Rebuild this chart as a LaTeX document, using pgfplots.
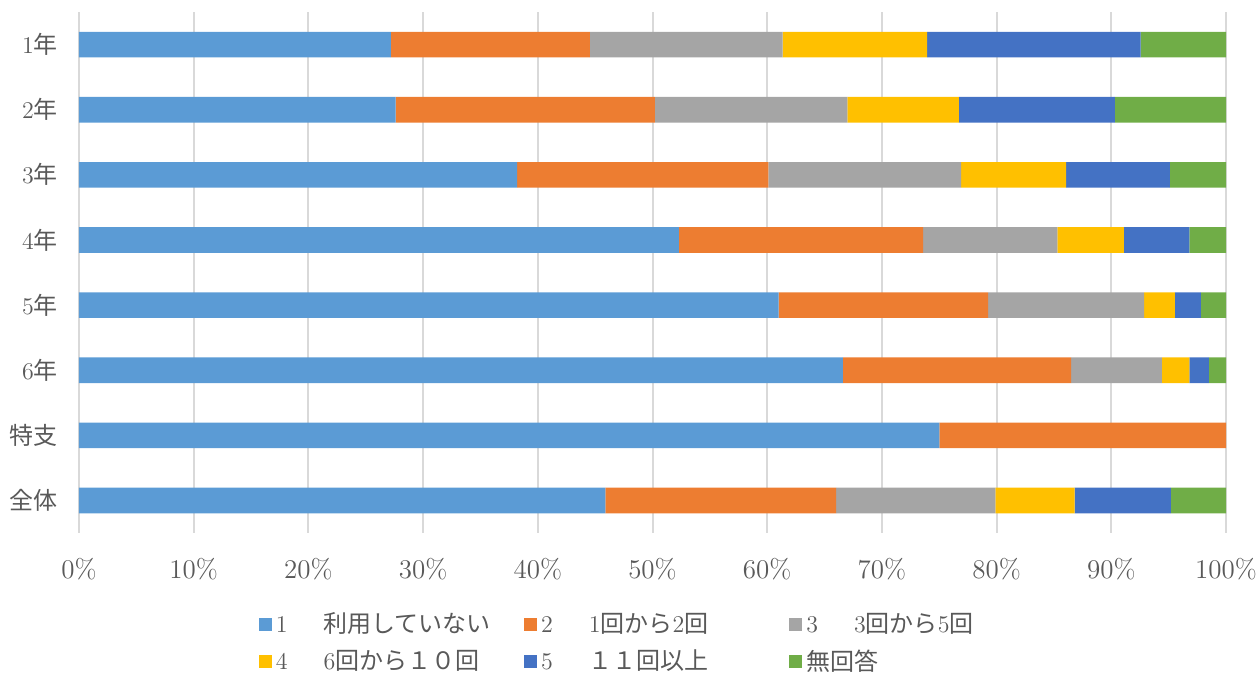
\documentclass[border=0pt]{standalone}
\usepackage{pgfplots}
\pgfplotsset{compat=1.18}
\usepackage{fontspec}
\newfontfamily\cjk{Noto Sans CJK JP}
\definecolor{c1}{HTML}{5B9BD5}
\definecolor{c2}{HTML}{ED7D31}
\definecolor{c3}{HTML}{A5A5A5}
\definecolor{c4}{HTML}{FFC000}
\definecolor{c5}{HTML}{4472C4}
\definecolor{c6}{HTML}{70AD47}
\definecolor{txt}{HTML}{595959}
\definecolor{grd}{HTML}{D9D9D9}
\begin{document}
\begin{tikzpicture}
\begin{axis}[
  scale only axis,
  width=573.5pt, height=260.5pt,
  xbar stacked,
  bar width=12.8pt,
  xmin=0, xmax=100,
  ymin=-0.5, ymax=7.5,
  y dir=reverse,
  ytick={0,1,2,3,4,5,6,7},
  yticklabels={{1{\cjk 年}},{2{\cjk 年}},{3{\cjk 年}},{4{\cjk 年}},{5{\cjk 年}},{6{\cjk 年}},{{\cjk 特支}},{{\cjk 全体}}},
  xtick={0,10,...,100},
  xticklabel={\pgfmathprintnumber{\tick}\%},
  /pgf/number format/assume math mode=true,
  xmajorgrids,
  grid style={grd, line width=1pt},
  axis line style={draw=none},
  major tick length=0pt,
  tick label style={font=\fontsize{13.5}{15}\selectfont, text=txt},
  yticklabel style={font=\fontsize{12}{14}\selectfont, xshift=-7pt},
  xticklabel style={yshift=-9pt},
  enlarge y limits=false,
  legend style={at={(0.5,-0.137)}, anchor=north, xshift=2pt, draw=none,
    legend columns=3, font=\fontsize{12}{14}\selectfont, text=txt,
    /tikz/every even column/.append style={column sep=0pt},
    row sep=3pt,
    nodes={text width=122pt, align=left, inner sep=2pt}},
  legend image code/.code={\fill[#1] (0cm,-3.3pt) rectangle (6.6pt,3.3pt);},
]
\addplot[fill=c1, draw=none] coordinates {(27.2,0) (27.6,1) (38.2,2) (52.3,3) (61.0,4) (66.6,5) (75.0,6) (45.9,7)};
\addplot[fill=c2, draw=none] coordinates {(17.35,0) (22.6,1) (21.9,2) (21.3,3) (18.25,4) (19.9,5) (25.0,6) (20.1,7)};
\addplot[fill=c3, draw=none] coordinates {(16.8,0) (16.8,1) (16.8,2) (11.7,3) (13.6,4) (7.9,5) (0,6) (13.9,7)};
\addplot[fill=c4, draw=none] coordinates {(12.6,0) (9.7,1) (9.15,2) (5.8,3) (2.7,4) (2.4,5) (0,6) (6.9,7)};
\addplot[fill=c5, draw=none] coordinates {(18.6,0) (13.6,1) (9.05,2) (5.7,3) (2.25,4) (1.7,5) (0,6) (8.4,7)};
\addplot[fill=c6, draw=none] coordinates {(7.75,0) (9.7,1) (4.9,2) (3.2,3) (2.2,4) (1.5,5) (0,6) (4.8,7)};
\legend{{1\quad\ \,{\cjk 利用していない}},{2\quad\ \,1{\cjk 回から}2{\cjk 回}},{3\quad\ \,3{\cjk 回から}5{\cjk 回}},{4\quad\ \,6{\cjk 回から１０回}},{5\quad\ \,{\cjk １１回以上}},{{\cjk 無回答}}}
\end{axis}
\pgfresetboundingbox
\useasboundingbox (-39.5pt,-72pt) rectangle (589.5pt,266.5pt);
\end{tikzpicture}
\end{document}
